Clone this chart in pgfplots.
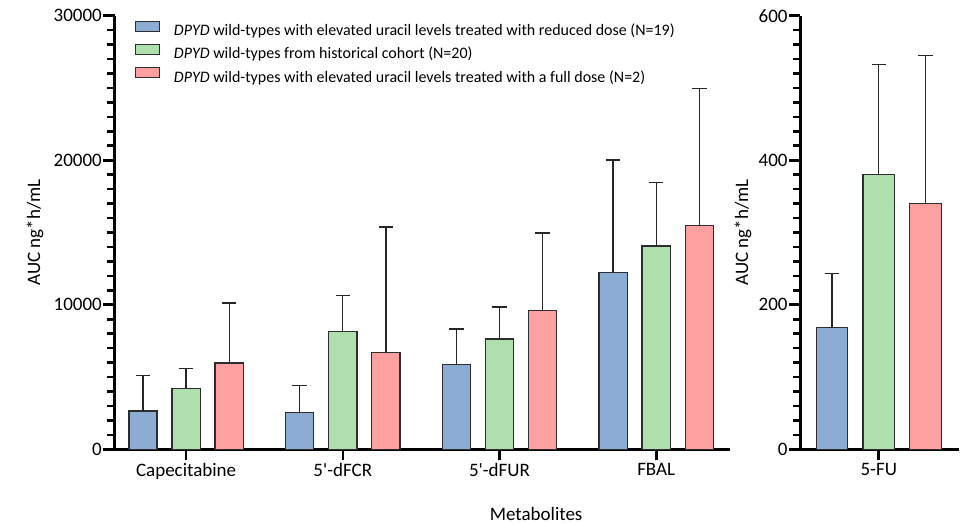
\documentclass[border=0pt]{standalone}
\usepackage{fontspec}
\setmainfont{Carlito}
\usepackage{pgfplots}
\usepackage{pgfplotstable}
\pgfplotsset{compat=1.18}

\definecolor{cblue}{RGB}{141,172,211}
\definecolor{cgreen}{RGB}{174,223,172}
\definecolor{cred}{RGB}{255,160,160}
\definecolor{cedge}{RGB}{45,45,45}

% AUC (ng*h/mL): mean and upper SD, bars placed at category index + offset
\pgfplotstableread{
x      y      err
-0.275 2660   2440
0.725  2550   1860
1.725  5890   2440
2.725  12230  7780
}\reduced
\pgfplotstableread{
x      y      err
0.000  4230   1360
1.000  8170   2450
2.000  7630   2220
3.000  14060  4380
}\historical
\pgfplotstableread{
x      y      err
0.275  5970   4160
1.275  6680   8710
2.275  9580   5380
3.275  15490  9480
}\fulldose
% 5-FU, one table per group
\pgfplotstableread{
x   y    err
-1  169  74.5
}\fuReduced
\pgfplotstableread{
x   y    err
0   380  152.5
}\fuHistorical
\pgfplotstableread{
x   y    err
1   340  205
}\fuFull

\pgfplotsset{
  aucaxis/.style={
    scale only axis, height=433.6bp,
    ymin=0,
    axis x line*=bottom, axis y line*=left,
    axis line style={line width=3bp, black},
    tick align=outside,
    major tick length=11bp, minor tick length=7bp,
    tick style={line width=2.6bp, black},
    minor y tick num=9,
    scaled y ticks=false,
    /pgf/number format/assume math mode=true,
    /pgf/number format/set thousands separator={},
    ticklabel style={font=\fontsize{19bp}{22bp}\selectfont},
    yticklabel style={inner xsep=1.5bp},
    xticklabel style={inner ysep=3bp},
    label style={font=\fontsize{19bp}{22bp}\selectfont},
  },
  aucbar/.style 2 args={
    ybar, bar shift=0pt, bar width=#2, fill=#1, draw=cedge, line width=1.3bp,
    error bars/y dir=plus, error bars/y explicit,
    error bars/error bar style={line width=1.3bp, black!85},
    error bars/error mark options={rotate=90, line width=1.3bp, mark size=7.25bp, black!85},
  },
}

\begin{document}
\begin{tikzpicture}
\useasboundingbox (0,0) rectangle (965bp,524bp);

\begin{axis}[
  aucaxis,
  at={(114.5bp,74.7bp)}, anchor=south west,
  width=615.5bp,
  ymax=30000, ytick={0,10000,20000,30000},
  xmin=-0.457, xmax=3.471,
  xtick={0,1,2,3},
  xticklabels={Capecitabine, 5\textquotesingle-dFCR, 5\textquotesingle-dFUR, FBAL},
  ylabel={AUC ng*h/mL},
  ylabel style={at={(axis description cs:-0.129,0.5)}, anchor=center},
  xlabel={Metabolites},
  xlabel style={at={(axis description cs:0.685,-0.150)}, anchor=center, inner sep=0pt},
  legend cell align=left,
  legend image code/.code={\draw[#1, line width=1bp] (0bp,0.2bp) rectangle (24bp,10.2bp);},
  legend style={
    at={(axis description cs:0.0333,0.988)}, anchor=north west,
    draw=none, fill=none, inner sep=0pt, outer sep=0pt,
    row sep=4.6bp, column sep=14bp,
    font=\fontsize{16bp}{19bp}\selectfont,
    nodes={inner sep=0pt, text height=12bp, text depth=4bp},
  },
]
\addplot[aucbar={cblue}{0.18}] table[x=x, y=y, y error=err] {\reduced};
\addlegendentry{\textit{DPYD} wild-types with elevated uracil levels treated with reduced dose (N=19)}
\addplot[aucbar={cgreen}{0.18}] table[x=x, y=y, y error=err] {\historical};
\addlegendentry{\textit{DPYD} wild-types from historical cohort (N=20)}
\addplot[aucbar={cred}{0.18}] table[x=x, y=y, y error=err] {\fulldose};
\addlegendentry{\textit{DPYD} wild-types with elevated uracil levels treated with a full dose (N=2)}
\end{axis}

\begin{axis}[
  aucaxis,
  at={(800.3bp,74.7bp)}, anchor=south west,
  width=158.7bp,
  ymax=600, ytick={0,200,400,600},
  xmin=-1.677, xmax=1.714,
  xtick={0}, xticklabels={5-FU},
  ylabel={AUC ng*h/mL},
  ylabel style={at={(axis description cs:-0.361,0.5)}, anchor=center},
]
\addplot[aucbar={cblue}{0.673}] table[x=x, y=y, y error=err] {\fuReduced};
\addplot[aucbar={cgreen}{0.673}] table[x=x, y=y, y error=err] {\fuHistorical};
\addplot[aucbar={cred}{0.673}] table[x=x, y=y, y error=err] {\fuFull};
\end{axis}
\end{tikzpicture}
\end{document}
